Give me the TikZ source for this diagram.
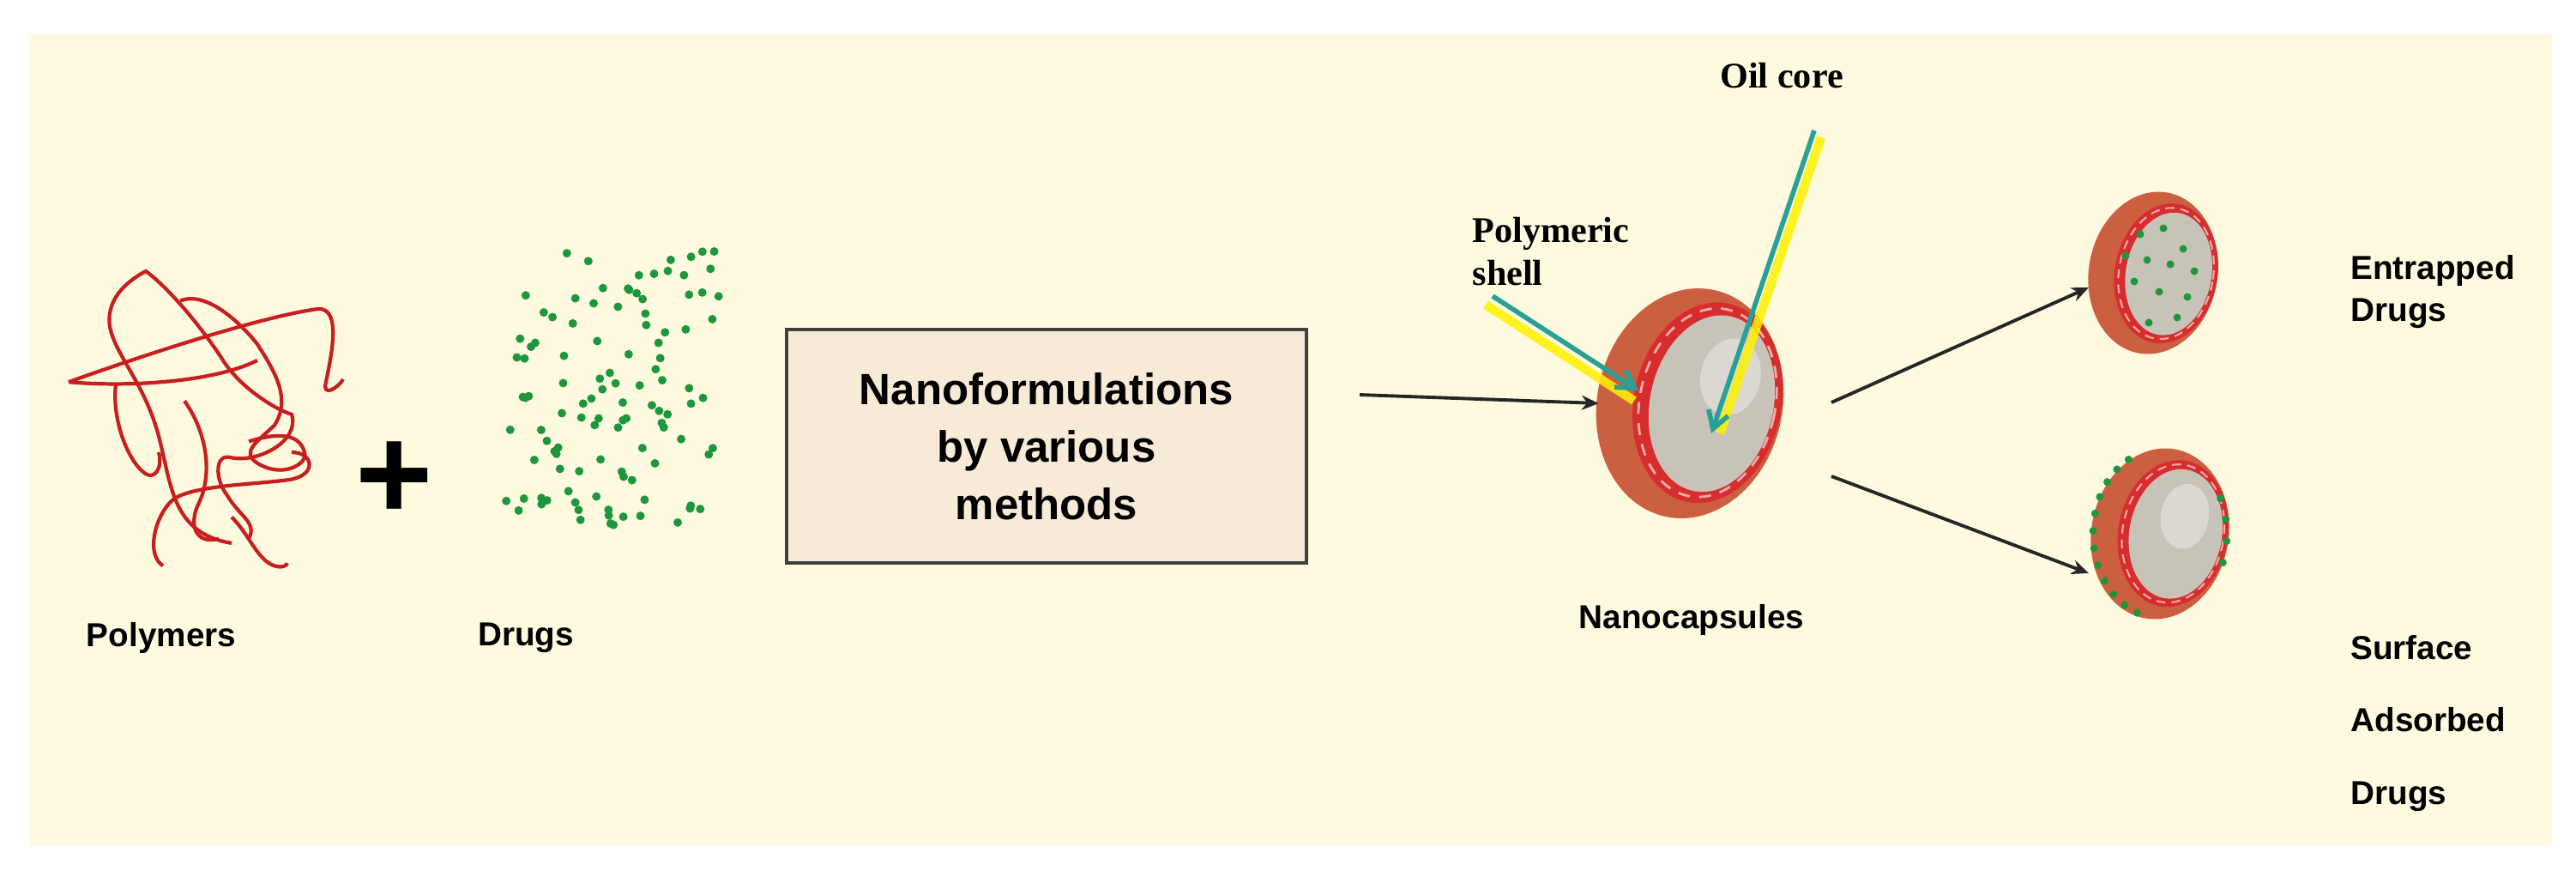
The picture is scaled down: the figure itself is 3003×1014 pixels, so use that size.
\documentclass[tikz,border=0pt]{standalone}
\usepackage{fontspec}
\setmainfont{Liberation Sans}
\newfontfamily\serifb{Liberation Serif}
\usetikzlibrary{arrows.meta,calc}
\definecolor{cream}{RGB}{253,250,224}
\definecolor{polyred}{RGB}{200,30,30}
\definecolor{drug}{RGB}{30,150,60}
\definecolor{boxfill}{RGB}{247,234,214}
\definecolor{shell}{RGB}{205,95,65}
\definecolor{ring}{RGB}{215,45,45}
\definecolor{core}{RGB}{200,195,185}
\definecolor{teal}{RGB}{40,160,150}
\begin{document}
\begin{tikzpicture}[x=0.01cm,y=-0.01cm,
  lab/.style={font=\bfseries\fontsize{11}{14}\selectfont, align=left},
  slab/.style={font=\serifb\bfseries\fontsize{12}{14}\selectfont, align=left},
  blk/.style={-{Stealth[length=0.2cm,width=0.17cm]}, line width=1.1pt, black!85},
  tl/.style={-{Straight Barb[length=0.2cm,width=0.24cm]}, line width=1.6pt, teal},
  glow/.style={line width=3pt, yellow, opacity=0.85},
  dot/.style={circle, fill=drug, inner sep=0pt, minimum size=0.1cm}]
\useasboundingbox (0,0) rectangle (3003,1014);
\fill[white] (0,0) rectangle (3003,1014);
\fill[cream] (35,40) rectangle (2975,985);
% polymer scribble
\begin{scope}[polyred, line width=1.2pt, shift={(0,316)}, yscale=0.63, shift={(0,-305)}]
\draw (270,808) .. controls (200,790) and (200,700) .. (185,610)
 .. controls (170,520) and (140,470) .. (130,420)
 .. controls (120,370) and (140,330) .. (170,305)
 .. controls (200,340) and (240,420) .. (260,470)
 .. controls (280,520) and (320,560) .. (340,570)
 .. controls (350,620) and (300,660) .. (270,650)
 .. controls (250,640) and (250,690) .. (265,720)
 .. controls (280,760) and (300,770) .. (290,800);
\draw (80,510) .. controls (150,470) and (300,390) .. (370,375)
 .. controls (400,370) and (385,470) .. (380,510)
 .. controls (375,540) and (395,520) .. (400,505);
\draw (80,510) .. controls (150,520) and (250,510) .. (300,470);
\draw (210,360) .. controls (240,340) and (280,400) .. (300,440)
 .. controls (320,490) and (340,540) .. (320,590)
 .. controls (300,620) and (280,640) .. (300,660)
 .. controls (330,690) and (360,660) .. (355,640)
 .. controls (350,610) and (330,600) .. (290,620);
\draw (135,515) .. controls (130,580) and (150,660) .. (170,680)
 .. controls (180,690) and (190,670) .. (185,640);
\draw (215,545) .. controls (240,600) and (250,680) .. (230,740)
 .. controls (220,780) and (230,810) .. (255,800);
\draw (190,850) .. controls (170,830) and (180,760) .. (200,730)
 .. controls (220,700) and (300,700) .. (340,690)
 .. controls (370,680) and (365,640) .. (340,640);
\draw (270,760) .. controls (290,790) and (300,840) .. (320,850)
 .. controls (330,855) and (335,848) .. (335,845);
\end{scope}
% plus
\node[font=\bfseries\fontsize{44}{44}\selectfont] (plus) at (460,560) {+};
% drugs cloud
\pgfmathsetseed{7}
\foreach \i in {1,...,110}{
  \pgfmathsetmacro{\dx}{rand*125}
  \pgfmathsetmacro{\dy}{rand*160}
  \node[dot] (d\i) at (718+\dx-0.12*\dy,452+\dy) {};
}
% labels left
\node[lab] (poly) at (188,743) {Polymers};
\node[lab] (drugs) at (613,743) {Drugs};
% box
\node[draw=black!75, line width=1.1pt, fill=boxfill, minimum width=6.05cm, minimum height=2.72cm,
  font=\bfseries\fontsize{14.5}{19}\selectfont, align=center, inner sep=0pt]
  (box) at (1220,520) {Nanoformulations\\by various\\methods};
\coordinate (a1s) at (1585,460);
% main capsule
\begin{scope}[rotate around={-12:(1970,470)}]
\fill[shell] (1970,470) ellipse (108 and 135);
\fill[ring] (1990,465) ellipse (86 and 118);
\fill[core] (1995,465) ellipse (72 and 104);
\fill[white,opacity=0.35] (2010,430) ellipse (35 and 45);
\draw[white!60!ring, line width=0.8pt, dash pattern=on 4pt off 3pt] (1990,465) ellipse (79 and 111);
\end{scope}
\node (cap) at (1972,470) [minimum width=2.15cm, minimum height=2.7cm] {};
\node[lab] (ncl) at (1972,722) {Nanocapsules};
\draw[blk] (a1s) -- (cap.west);
% top capsule
\begin{scope}[rotate around={-10:(2510,318)}]
\fill[shell] (2510,318) ellipse (75 and 95);
\fill[ring] (2525,316) ellipse (60 and 82);
\fill[core] (2528,316) ellipse (50 and 72);
\draw[white!60!ring, line width=0.6pt, dash pattern=on 3pt off 2pt] (2525,316) ellipse (55 and 77);
\end{scope}
\node (cap2) at (2510,318) [minimum width=1.5cm, minimum height=1.9cm] {};
\foreach \p [count=\k] in {(2495,273),(2522,266),(2545,290),(2503,303),(2530,308),(2558,316),(2488,328),(2517,340),(2550,346),(2505,376),(2538,370),(2478,298)}
  \node[dot, minimum size=0.09cm] (e\k) at \p {};
% bottom capsule
\begin{scope}[rotate around={-10:(2518,622)}]
\fill[shell] (2518,622) ellipse (80 and 100);
\fill[ring] (2533,619) ellipse (64 and 86);
\fill[core] (2536,619) ellipse (54 and 76);
\fill[white,opacity=0.35] (2543,597) ellipse (28 and 38);
\draw[white!60!ring, line width=0.6pt, dash pattern=on 3pt off 2pt] (2533,619) ellipse (59 and 81);
\end{scope}
\node (cap3) at (2518,622) [minimum width=1.6cm, minimum height=2cm] {};
\foreach \a [count=\k] in {110,122,134,146,158,170,182,194,206,218,230,242,5,350,335,20}
  \node[dot, minimum size=0.09cm] (s\k) at ($(2518,622)+(\a:78 and 98)$) {};
% connectors
\coordinate (b1) at (2135,469);
\coordinate (b2) at (2135,555);
\coordinate (t1) at (2435,335);
\coordinate (t2) at (2435,668);
\draw[blk] (b1) -- (t1);
\draw[blk] (b2) -- (t2);
\node[lab, anchor=west] (ent) at (2728,340) {Entrapped\\Drugs};
\node[lab, anchor=west, font=\bfseries\fontsize{11}{24}\selectfont] (sur) at (2728,843) {Surface\\Adsorbed\\Drugs};
% annotations
\node[slab] (shl) at (1808,293) {Polymeric\\shell};
\node[slab] (oil) at (2077,88) {Oil core};
\coordinate (ps) at (1740,345);
\coordinate (pe) at (1910,455);
\coordinate (os) at (2115,152);
\coordinate (oe) at (1995,505);
\draw[glow] ($(ps)+(-8,10)$) -- ($(pe)+(-5,12)$);
\draw[glow] ($(os)+(8,8)$) -- ($(oe)+(10,0)$);
\draw[tl] (ps) -- (pe);
\draw[tl] (os) -- (oe);
\end{tikzpicture}
\end{document}
